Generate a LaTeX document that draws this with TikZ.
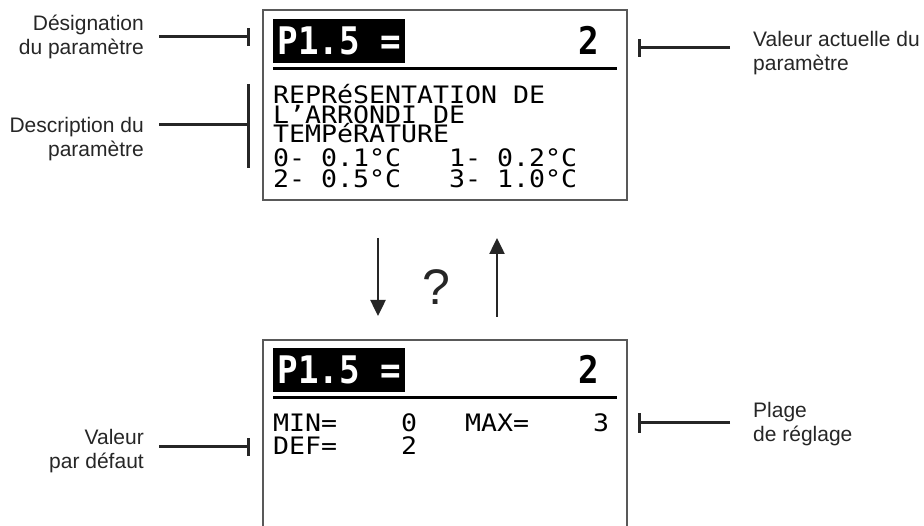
\documentclass[tikz,border=0pt]{standalone}
\usepackage{fontspec}
\setmainfont{Liberation Sans}
\newfontfamily\lcdfont[FakeStretch=1.107]{DejaVu Sans Mono}
\newfontfamily\hdrfont[FakeStretch=0.9]{DejaVu Sans Mono}
\usetikzlibrary{arrows.meta}
\begin{document}
\begin{tikzpicture}[x=1pt,y=-1pt,
  lbl/.style={font=\fontsize{21}{24}\selectfont, text=black!85, inner sep=0},
  lcd/.style={font=\lcdfont\fontsize{24}{24}\selectfont, inner sep=0, anchor=base west, text height=17.5pt, text depth=0.5pt},
  hdr/.style={fill=black, text=white, font=\hdrfont\bfseries\fontsize{38}{38}\selectfont, inner sep=0, minimum width=132pt, minimum height=44pt, anchor=north west},
  big/.style={font=\hdrfont\bfseries\fontsize{38}{38}\selectfont, inner sep=0, anchor=base east},
  frame/.style={draw=black!65, line width=1.2pt},
  rule/.style={line width=3pt},
  leader/.style={line width=3pt, draw=black!85},
  flow/.style={line width=2.5pt, draw=black!85, -{Triangle[width=15pt,length=16pt]}}
]
\useasboundingbox (0,0) rectangle (924,526);

% screens
\draw[frame] (263,10) rectangle (627,200);
\draw[frame] (263,526) -- (263,340) -- (627,340) -- (627,526);

% top screen
\node[hdr] (h1) at (273,19) {P1.5 =};
\node[big] (v1) at (599,55) {2};
\draw[rule] (273,69) -- (617,69);
\node[lcd] (d1) at (273,104) {REPRéSENTATION~DE};
\node[lcd] (d2) at (273,123.5) {L’ARRONDI~DE};
\node[lcd] (d3) at (273,143) {TEMPéRATURE};
\node[lcd] (d4) at (273,167) {0-~0.1°C~~~1-~0.2°C};
\node[lcd] (d5) at (273,188) {2-~0.5°C~~~3-~1.0°C};

% bottom screen
\node[hdr] (h2) at (273,348) {P1.5 =};
\node[big] (v2) at (599,384) {2};
\draw[rule] (273,398) -- (617,398);
\node[lcd] (m1) at (273,432) {MIN=~~~~0~~~MAX=~~~~3};
\node[lcd] (m2) at (273,455) {DEF=~~~~2};

% labels (base anchor = last line)
\node[lbl, align=right, anchor=base east] (desig) at (144,55) {Désignation\\du paramètre};
\node[lbl, align=right, anchor=base east] (descr) at (144,157) {Description du\\paramètre};
\node[lbl, align=right, anchor=base east] (defv) at (144,468) {Valeur\\par défaut};
\node[lbl, align=left, anchor=base west] (cur) at (753,71) {Valeur actuelle du\\paramètre};
\node[lbl, align=left, anchor=base west] (range) at (753,442) {Plage\\de réglage};

% leaders
\coordinate (a1) at (159,37);   \coordinate (a2) at (248,37);
\coordinate (b1) at (159,125);  \coordinate (b2) at (248,125);
\coordinate (c1) at (159,447);  \coordinate (c2) at (248,447);
\coordinate (e1) at (730,48);   \coordinate (e2) at (639,48);
\coordinate (f1) at (730,423);  \coordinate (f2) at (639,423);
\draw[leader] (a1) -- (a2);
\draw[leader] ([yshift=-9pt]a2) -- ([yshift=9pt]a2);
\draw[leader] (b1) -- (b2);
\draw[leader] (248,84) -- (248,168);
\draw[leader] (c1) -- (c2);
\draw[leader] ([yshift=-9pt]c2) -- ([yshift=9pt]c2);
\draw[leader] (e1) -- (e2);
\draw[leader] ([yshift=-9pt]e2) -- ([yshift=9pt]e2);
\draw[leader] (f1) -- (f2);
\draw[leader] ([yshift=-10pt]f2) -- ([yshift=10pt]f2);

% navigation
\coordinate (p1) at (378,238); \coordinate (p2) at (378,316);
\coordinate (q1) at (497,317); \coordinate (q2) at (497,238);
\draw[flow] (p1) -- (p2);
\draw[flow] (q1) -- (q2);
\node[font=\fontsize{50}{50}\selectfont, text=black!85, inner sep=0, anchor=base] (qm) at (436,305) {?};
\end{tikzpicture}
\end{document}
